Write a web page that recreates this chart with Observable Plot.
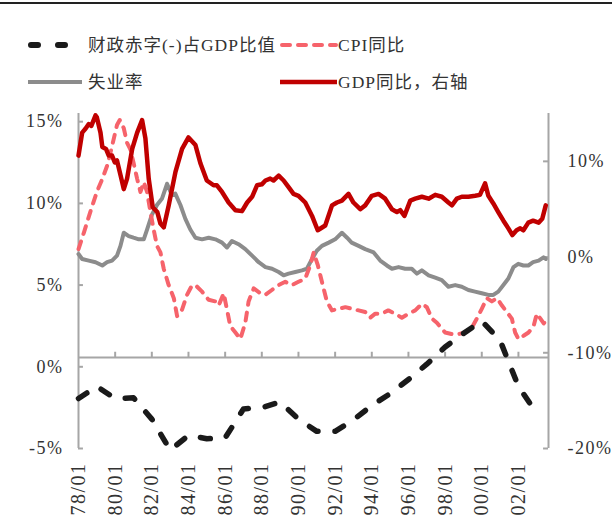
<!DOCTYPE html>
<html>
<head>
<meta charset="utf-8">
<script src="https://cdn.jsdelivr.net/npm/d3@7"></script>
<script src="https://cdn.jsdelivr.net/npm/@observablehq/plot@0.6"></script>
<style>
  html, body { margin: 0; padding: 0; background: #fff; }
  #wrap { position: relative; width: 612px; height: 516px; overflow: hidden; }
  .topline { position: absolute; left: 0; top: 2px; width: 612px; height: 2px; background: #222; }
  .lg { position: absolute; font-family: "Liberation Serif", "Noto Sans CJK SC", serif; font-size: 17.5px;
        color: #333; letter-spacing: 1px; white-space: nowrap; line-height: 20px; }
  .sw { position: absolute; }
  #chart { position: absolute; left: 0; top: 100px; }
  #chart svg text { letter-spacing: 1.5px; }
</style>
</head>
<body>
<div id="wrap">
  <div class="topline"></div>
  <svg class="sw" style="left:0;top:0" width="612" height="100">
    <line x1="31" x2="66" y1="45" y2="45" stroke="#1a1a1a" stroke-width="6" stroke-dasharray="7,20" stroke-linecap="round"/>
    <line x1="282" x2="336" y1="45" y2="45" stroke="#f6636b" stroke-width="4" stroke-dasharray="8,8" stroke-linecap="round"/>
    <line x1="28" x2="82" y1="82" y2="82" stroke="#8c8c8c" stroke-width="4"/>
    <line x1="280" x2="337" y1="82" y2="82" stroke="#c00000" stroke-width="4.5"/>
  </svg>
  <div class="lg" id="lg1" style="left:88px;top:35px"></div>
  <div class="lg" id="lg2" style="left:338px;top:35px"></div>
  <div class="lg" id="lg3" style="left:88px;top:72px"></div>
  <div class="lg" id="lg4" style="left:338px;top:72px"></div>
  <div id="chart"></div>
</div>
<script>
// ---------- legend labels ----------
const seriesNames = ["财政赤字(-)占GDP比值", "CPI同比", "失业率", "GDP同比，右轴"];

// ---------- tick labels / axes ----------
const xTicks = [1978, 1980, 1982, 1984, 1986, 1988, 1990, 1992, 1994, 1996, 1998, 2000, 2002];
const leftTicks = [-5, 0, 5, 10, 15];
const rightTicks = [-20, -10, 0, 10];
const X0 = 1978, X1 = 2003.64;     // time span of the plot (years)
const L0 = -5, L1 = 15.5;          // left axis (%)
const R0 = -20, R1 = 15;           // right axis (%)
const AXIS_AT = 0.57;              // where the horizontal axis crosses (left units)

// ---------- fiscal balance (% of GDP), annual, left axis ----------
const fiscalYear = [1978,1979,1980,1981,1982,1983,1984,1985,1986,1987,1988,1989,1990,1991,1992,1993,1994,1995,1996,1997,1998,1999,2000,2001,2002,2003];
const fiscalVal  = [-1.94,-1.2,-1.94,-1.9,-3.2,-5.1,-4.2,-4.4,-4.35,-2.58,-2.5,-2.15,-3.2,-3.95,-3.95,-3.25,-2.37,-1.64,-0.78,0.16,1.21,2.04,2.8,1.61,-1.2,-2.86];

// ---------- CPI YoY (%), left axis ----------
const cpiT = [1978.0,1978.29,1978.65,1979.0,1979.3,1979.56,1979.83,1980.1,1980.25,1980.47,1980.65,1980.83,1981.0,1981.2,1981.38,1981.56,1981.74,1981.92,1982.1,1982.28,1982.47,1982.65,1982.92,1983.2,1983.38,1983.65,1983.92,1984.2,1984.47,1984.74,1985.1,1985.47,1985.65,1985.92,1986.1,1986.28,1986.56,1986.83,1987.1,1987.28,1987.56,1987.92,1988.19,1988.55,1988.92,1989.28,1989.64,1990.0,1990.37,1990.64,1990.83,1991.06,1991.28,1991.55,1991.83,1992.19,1992.56,1992.92,1993.28,1993.64,1993.91,1994.19,1994.54,1994.9,1995.27,1995.64,1996.0,1996.37,1996.73,1997.0,1997.28,1997.55,1997.73,1998.0,1998.37,1998.73,1999.09,1999.46,1999.73,2000.0,2000.28,2000.55,2000.83,2001.1,2001.37,2001.64,2001.82,2002.0,2002.28,2002.55,2002.83,2003.0,2003.2,2003.38,2003.56];
const cpiVal = [7.2,8.2,9.5,10.7,11.5,12.3,13.5,14.8,15.1,14.6,13.7,13.3,12.5,11.5,10.7,11.3,10.7,9.5,8.4,7.4,7.0,6.0,5.0,4.2,3.1,3.5,4.4,5.0,4.9,4.6,4.1,4.0,3.75,4.5,3.5,2.5,2.1,1.7,2.7,4.0,4.8,4.5,4.4,4.7,5.0,5.2,5.0,5.2,5.4,6.2,7.0,6.2,5.2,4.0,3.45,3.55,3.65,3.55,3.45,3.35,3.0,3.25,3.25,3.45,3.25,3.0,3.25,3.45,3.85,3.65,2.95,2.7,2.45,2.1,2.0,2.0,2.1,2.4,2.95,3.55,4.2,4.0,4.2,3.75,3.35,2.95,2.1,1.7,1.9,2.1,2.5,3.25,2.95,2.65,2.95];

// ---------- unemployment rate (%), left axis ----------
const unT = [1978.0,1978.2,1978.56,1978.93,1979.3,1979.56,1979.83,1980.1,1980.29,1980.47,1980.74,1981.0,1981.29,1981.56,1981.74,1982.0,1982.28,1982.56,1982.83,1983.1,1983.28,1983.56,1983.83,1984.1,1984.38,1984.74,1985.1,1985.47,1985.83,1986.1,1986.37,1986.73,1987.1,1987.47,1987.83,1988.2,1988.56,1988.92,1989.19,1989.46,1989.83,1990.19,1990.46,1990.74,1991.0,1991.28,1991.65,1992.0,1992.37,1992.65,1992.9,1993.28,1993.64,1994.1,1994.46,1994.82,1995.1,1995.46,1995.82,1996.18,1996.46,1996.73,1997.1,1997.46,1997.82,1998.18,1998.55,1998.91,1999.27,1999.63,2000.0,2000.36,2000.63,2000.9,2001.18,2001.45,2001.73,2001.99,2002.27,2002.54,2002.8,2003.1,2003.37,2003.49];
const unVal = [6.9,6.6,6.5,6.4,6.2,6.4,6.5,6.8,7.4,8.2,8.0,7.9,7.8,7.8,8.4,9.3,9.9,10.3,11.2,10.5,10.6,9.9,9.05,8.4,7.9,7.8,7.9,7.8,7.6,7.3,7.7,7.5,7.2,6.8,6.4,6.1,6.0,5.8,5.6,5.7,5.8,5.9,6.0,6.6,7.1,7.4,7.6,7.8,8.2,7.9,7.6,7.4,7.2,7.0,6.5,6.2,6.0,6.1,6.0,6.0,5.7,5.9,5.6,5.45,5.3,4.9,5.0,4.9,4.7,4.6,4.5,4.4,4.4,4.6,5.0,5.4,6.1,6.3,6.2,6.2,6.4,6.5,6.7,6.6];

// ---------- nominal GDP YoY (%), right axis ----------
const gdpT = [1978.0,1978.2,1978.38,1978.56,1978.7,1978.93,1979.0,1979.2,1979.3,1979.5,1979.65,1979.83,1979.98,1980.1,1980.3,1980.47,1980.65,1980.93,1981.2,1981.47,1981.65,1981.83,1982.05,1982.3,1982.47,1982.65,1982.92,1983.29,1983.65,1984.0,1984.38,1984.65,1985.0,1985.37,1985.55,1985.83,1986.19,1986.56,1986.92,1987.2,1987.47,1987.74,1988.0,1988.2,1988.46,1988.64,1988.92,1989.19,1989.46,1989.73,1990.0,1990.37,1990.74,1991.05,1991.46,1991.83,1992.1,1992.37,1992.73,1993.0,1993.37,1993.64,1994.0,1994.37,1994.73,1995.1,1995.37,1995.55,1995.78,1996.1,1996.37,1996.73,1997.1,1997.46,1997.82,1998.18,1998.37,1998.64,1998.91,1999.27,1999.64,1999.9,2000.18,2000.36,2000.63,2000.9,2001.18,2001.45,2001.67,2001.9,2002.1,2002.27,2002.54,2002.8,2003.1,2003.3,2003.49];
const gdpVal = [10.6,13.0,13.4,13.9,13.7,14.8,14.6,13.0,11.5,11.3,10.6,10.6,9.9,10.1,8.5,7.1,8.2,11.3,13.0,14.3,12.4,8.2,5.2,4.7,3.5,3.1,5.4,8.9,11.3,12.5,11.7,9.8,8.0,7.5,7.5,6.8,5.7,4.9,4.8,5.7,6.3,7.5,7.6,8.0,8.2,8.0,8.5,8.0,7.3,6.6,6.4,5.7,4.3,2.8,3.3,5.4,5.7,5.9,6.6,5.7,5.0,5.4,6.4,6.6,6.1,5.0,4.7,4.9,4.3,5.9,6.1,6.3,6.1,6.5,6.3,5.7,5.4,6.1,6.3,6.3,6.4,6.5,7.7,6.4,5.6,4.7,3.8,3.0,2.3,2.8,3.0,2.8,3.6,3.8,3.6,4.0,5.4];

// ---------- legend text ----------
["lg1","lg2","lg3","lg4"].forEach((id, i) => document.getElementById(id).textContent = seriesNames[i]);

// right-axis values mapped into left-axis units
const toL = r => L0 + (r - R0) * (L1 - L0) / (R1 - R0);
const fromL = l => R0 + (l - L0) * (R1 - R0) / (L1 - L0);

const fiscal = fiscalYear.map((t, i) => ({t, v: fiscalVal[i]}));
const cpi = cpiT.map((t, i) => ({t, v: cpiVal[i]}));
const unemp = unT.map((t, i) => ({t, v: unVal[i]}));
const gdp = gdpT.map((t, i) => ({t, v: toL(gdpVal[i])}));

const AX = "#a6a6a6";
const TXT = "#333";
const FONT = "Liberation Serif";

const chart = Plot.plot({
  width: 612,
  height: 416,
  marginLeft: 78,
  marginRight: 64,
  marginTop: 13,
  marginBottom: 68,
  style: {fontFamily: FONT, background: "transparent", overflow: "visible"},
  x: {type: "linear", domain: [X0, X1]},
  y: {type: "linear", domain: [L0, L1]},
  marks: [
    // axis lines
    Plot.ruleX([X0], {y1: L0, y2: L1, stroke: AX, strokeWidth: 2}),
    Plot.ruleX([X1], {y1: L0, y2: L1, stroke: AX, strokeWidth: 2}),
    Plot.ruleY([AXIS_AT], {x1: X0, x2: X1, stroke: AX, strokeWidth: 2}),
    // inward tick marks
    Plot.ruleY(leftTicks, {x1: X0, x2: X0 + 0.27, stroke: AX, strokeWidth: 2}),
    Plot.ruleY(rightTicks.map(toL), {x1: X1 - 0.27, x2: X1, stroke: AX, strokeWidth: 2}),
    Plot.ruleX(xTicks.slice(1), {y1: AXIS_AT, y2: AXIS_AT + 0.32, stroke: AX, strokeWidth: 2}),
    // axis labels
    Plot.axisY(leftTicks, {anchor: "left", label: null, tickSize: 0, tickPadding: 15, fontSize: 18, fill: TXT,
      fontFamily: FONT, tickFormat: d => d + "%"}),
    Plot.axisY(rightTicks.map(toL), {anchor: "right", label: null, tickSize: 0, tickPadding: 19, fontSize: 18, fill: TXT,
      fontFamily: FONT, tickFormat: d => Math.round(fromL(d)) + "%"}),
    Plot.axisX(xTicks, {anchor: "bottom", label: null, tickSize: 0, tickPadding: 14, tickRotate: -90, fontSize: 20,
      fill: TXT, fontFamily: FONT, tickFormat: d => String(d % 100).padStart(2, "0") + "/01"}),
    // series
    Plot.line(unemp, {x: "t", y: "v", stroke: "#8c8c8c", strokeWidth: 4}),
    Plot.line(cpi, {x: "t", y: "v", stroke: "#f6636b", strokeWidth: 4, strokeDasharray: "8,8", strokeLinecap: "round"}),
    Plot.line(fiscal, {x: "t", y: "v", stroke: "#1a1a1a", strokeWidth: 5.5, strokeDasharray: "10,17", strokeLinecap: "round"}),
    Plot.line(gdp, {x: "t", y: "v", stroke: "#c00000", strokeWidth: 4.5})
  ]
});
document.getElementById("chart").appendChild(chart);
</script>
</body>
</html>
